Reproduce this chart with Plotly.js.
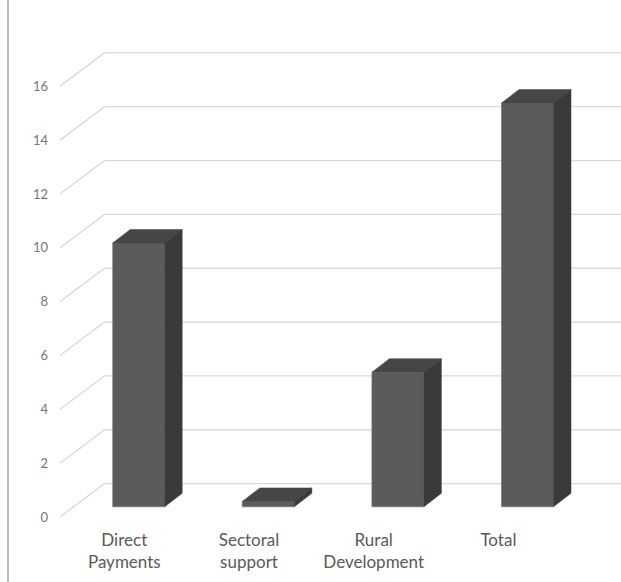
<!DOCTYPE html>
<html>
<head>
<meta charset="utf-8">
<script src="https://cdn.plot.ly/plotly-3.0.1.min.js"></script>
<style>
  html, body { margin: 0; padding: 0; background: #ffffff; }
  #chart { width: 621px; height: 582px; }
</style>
</head>
<body>
<div id="chart"></div>
<script>
// Data
const categories = ["Direct Payments", "Sectoral support", "Rural Development", "Total"];
const categoryLabels = ["Direct<br>Payments", "Sectoral<br>support", "Rural<br>Development", "Total"];
const values = [9.8, 0.2, 5.0, 15.0];
const tickValues = [0, 2, 4, 6, 8, 10, 12, 14, 16];

// Page geometry (pixels)
const W = 621, H = 582;
const M = { l: 60, r: 0, t: 40, b: 65 };
const plotW = W - M.l - M.r;
const plotH = H - M.t - M.b;
const pxPerUnit = 26.92;             // vertical scale shared by all planes
const yMax = plotH / pxPerUnit;

// Oblique projection: front (labels) plane, bar plane and back wall
const labelStart = 64.3, labelStep = 124.7;   // category label centres, front plane
const barStart = 78.7, barStep = 129.6;       // bar centres, bar plane
const barLiftPx = 10.2;                        // bar floor above front floor
const wallLiftPx = 33.4, wallShiftPx = 44.5;  // back wall offset from front floor
const depthDxPx = 17.5, depthDyPx = 13.5;     // bar depth
const barWidth = 52 / barStep;

const depthDx = depthDxPx / barStep;
const depthDy = depthDyPx / pxPerUnit;
const wallLift = wallLiftPx / pxPerUnit;

const frontColor = "#5b5b5b", topColor = "#464646", sideColor = "#3a3a3a";
const gridColor = "#d9d9d9";

const idx = categories.map((_, i) => i);

const traces = [{
  type: "bar",
  x: idx, y: values,
  xaxis: "x2", yaxis: "y2",
  width: barWidth,
  marker: { color: frontColor, line: { color: "#6e6e6e", width: 0.6 } },
  hoverinfo: "skip",
  showlegend: false
}];

idx.forEach((i) => {
  const v = values[i];
  const l = i - barWidth / 2, r = i + barWidth / 2;
  traces.push({
    type: "scatter", mode: "lines", xaxis: "x2", yaxis: "y2",
    x: [l, r, r + depthDx, l + depthDx, l],
    y: [v, v, v + depthDy, v + depthDy, v],
    fill: "toself", fillcolor: topColor,
    line: { color: topColor, width: 0.5 },
    hoverinfo: "skip", showlegend: false
  });
  traces.push({
    type: "scatter", mode: "lines", xaxis: "x2", yaxis: "y2",
    x: [r, r + depthDx, r + depthDx, r, r],
    y: [0, depthDy, v + depthDy, v, 0],
    fill: "toself", fillcolor: sideColor,
    line: { color: sideColor, width: 0.5 },
    hoverinfo: "skip", showlegend: false
  });
});

// Back wall gridlines and the diagonal floor/wall connectors
const wallX0 = wallShiftPx / plotW;
const shapes = [];
tickValues.forEach((t) => {
  shapes.push({
    type: "line", layer: "below", xref: "paper", yref: "y",
    x0: wallX0, x1: 1, y0: t + wallLift, y1: t + wallLift,
    line: { color: gridColor, width: 1.3 }
  });
  shapes.push({
    type: "line", layer: "below", xref: "paper", yref: "y",
    x0: 0, x1: wallX0, y0: t, y1: t + wallLift,
    line: { color: gridColor, width: 1.3 }
  });
});
// Frame edge on the left
shapes.push({
  type: "line", xref: "paper", yref: "paper",
  x0: (8 - M.l) / plotW, x1: (8 - M.l) / plotW,
  y0: -M.b / plotH, y1: 1 + M.t / plotH,
  line: { color: "#bdbdbd", width: 2 }
});

const layout = {
  width: W, height: H,
  margin: M,
  paper_bgcolor: "#ffffff",
  plot_bgcolor: "rgba(0,0,0,0)",
  showlegend: false,
  font: { family: "Lato, sans-serif", color: "#595959" },
  xaxis: {
    range: [-labelStart / labelStep, (plotW - labelStart) / labelStep],
    tickmode: "array", tickvals: idx, ticktext: categoryLabels,
    showgrid: false, zeroline: false, showline: false, ticks: "",
    ticklabelstandoff: 11,
    tickfont: { family: "Lato, sans-serif", size: 17, color: "#595959" },
    fixedrange: true
  },
  yaxis: {
    range: [0, yMax],
    tickmode: "array", tickvals: tickValues,
    showgrid: false, zeroline: false, showline: false, ticks: "",
    ticklabelstandoff: 11,
    tickfont: { family: "Lato, sans-serif", size: 13, color: "#767676" },
    fixedrange: true
  },
  xaxis2: {
    overlaying: "x",
    range: [-barStart / barStep, (plotW - barStart) / barStep],
    visible: false, fixedrange: true
  },
  yaxis2: {
    overlaying: "y",
    range: [-barLiftPx / pxPerUnit, yMax - barLiftPx / pxPerUnit],
    visible: false, fixedrange: true
  },
  shapes: shapes
};

Plotly.newPlot("chart", traces, layout, { displayModeBar: false, staticPlot: true });
</script>
</body>
</html>
